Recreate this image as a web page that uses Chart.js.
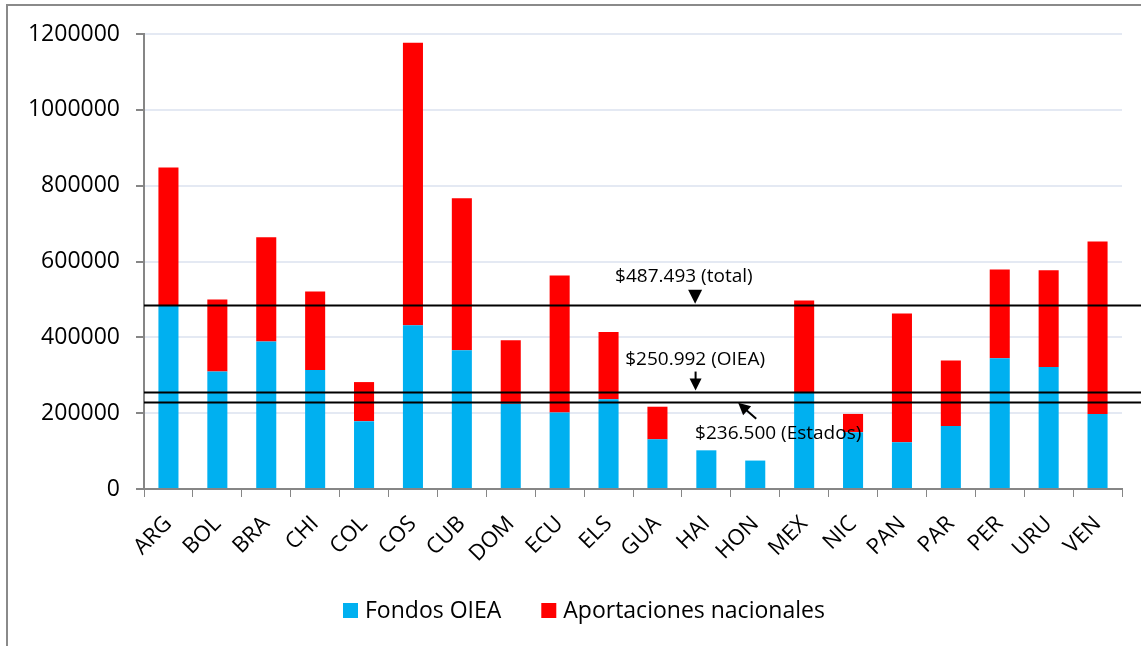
<!DOCTYPE html>
<html>
<head>
<meta charset="utf-8">
<script src="https://cdn.jsdelivr.net/npm/chart.js@4.4.0/dist/chart.umd.min.js"></script>
<style>
  body { margin:0; background:#fff; }
  #wrap { position:relative; width:1141px; height:646px; overflow:hidden; }
  #frame { position:absolute; left:6px; top:4px; width:1160px; height:680px; border:2px solid #8a8a8a; pointer-events:none; }
</style>
</head>
<body>
<div id="wrap">
  <canvas id="chart" width="1141" height="646"></canvas>
  <div id="frame"></div>
</div>
<script>
// datos
const paises = ['ARG','BOL','BRA','CHI','COL','COS','CUB','DOM','ECU','ELS','GUA','HAI','HON','MEX','NIC','PAN','PAR','PER','URU','VEN'];
const fondosOIEA = [485000, 310000, 389000, 314000, 179000, 432000, 366000, 225000, 202000, 237000, 131000, 102000, 75000, 256000, 150000, 123000, 166000, 345000, 322000, 198000];
const aportacionesNacionales = [363000, 190000, 275000, 207000, 103000, 745000, 401000, 167000, 361000, 177000, 86000, 0, 0, 241000, 48000, 340000, 173000, 234000, 255000, 455000];
const yTicks = [0, 200000, 400000, 600000, 800000, 1000000, 1200000];
const promedios = [486000, 257000, 230000];
const promediosTextos = ['$487.493 (total)', '$250.992 (OIEA)', '$236.500 (Estados)'];
const seriesNombres = ['Fondos OIEA', 'Aportaciones nacionales'];
const colores = ['#00B0F0', '#FF0000'];

const FONT = '"Open Sans", sans-serif';

function flecha(ctx, x1, y1, x2, y2, head) {
    const ang = Math.atan2(y2 - y1, x2 - x1);
    ctx.beginPath();
    ctx.moveTo(x1, y1);
    ctx.lineTo(x2 - Math.cos(ang) * head * 0.8, y2 - Math.sin(ang) * head * 0.8);
    ctx.lineWidth = 2;
    ctx.stroke();
    ctx.beginPath();
    ctx.moveTo(x2, y2);
    ctx.lineTo(x2 - head * Math.cos(ang) + head * 0.5 * Math.sin(ang), y2 - head * Math.sin(ang) - head * 0.5 * Math.cos(ang));
    ctx.lineTo(x2 - head * Math.cos(ang) - head * 0.5 * Math.sin(ang), y2 - head * Math.sin(ang) + head * 0.5 * Math.cos(ang));
    ctx.closePath();
    ctx.fill();
}

const extras = {
    id: 'extras',
    afterDatasetsDraw(chart) {
        const ctx = chart.ctx;
        const xs = chart.scales.x, ys = chart.scales.y;
        const left = chart.chartArea.left;
        ctx.save();
        ctx.strokeStyle = '#000';
        ctx.fillStyle = '#000';
        // lineas de promedio
        promedios.forEach(v => {
            const y = Math.round(ys.getPixelForValue(v)) + 0.5;
            ctx.beginPath();
            ctx.moveTo(left, y);
            ctx.lineTo(chart.width, y);
            ctx.lineWidth = 2;
            ctx.stroke();
        });
        ctx.font = '19px ' + FONT;
        ctx.textBaseline = 'middle';

        // total
        let yl = ys.getPixelForValue(promedios[0]);
        ctx.textAlign = 'center';
        ctx.fillText(promediosTextos[0], xs.getPixelForValue(10.54), yl - 28);
        let xa = xs.getPixelForValue(10.77);
        ctx.beginPath();
        ctx.moveTo(xa - 7, yl - 15);
        ctx.lineTo(xa + 7, yl - 15);
        ctx.lineTo(xa, yl - 1);
        ctx.closePath();
        ctx.fill();

        // OIEA
        yl = ys.getPixelForValue(promedios[1]);
        ctx.fillText(promediosTextos[1], xs.getPixelForValue(10.77), yl - 32);
        xa = xs.getPixelForValue(10.78);
        flecha(ctx, xa, yl - 20, xa, yl - 1, 12);

        // Estados
        yl = ys.getPixelForValue(promedios[2]);
        ctx.textAlign = 'left';
        ctx.fillText(promediosTextos[2], xs.getPixelForValue(10.77), yl + 32);
        flecha(ctx, xs.getPixelForValue(12.02), yl + 17, xs.getPixelForValue(11.65), yl + 1, 12);

        // leyenda
        ctx.font = '23px ' + FONT;
        let x = 343;
        const yb = 603;
        seriesNombres.forEach((n, i) => {
            ctx.fillStyle = colores[i];
            ctx.fillRect(x, yb, 15, 15);
            ctx.fillStyle = '#000';
            ctx.fillText(n, x + 22, yb + 8);
            x += 22 + ctx.measureText(n).width + 40;
        });
        ctx.restore();
    }
};

new Chart(document.getElementById('chart'), {
    type: 'bar',
    data: {
        labels: paises,
        datasets: [
            { label: seriesNombres[0], data: fondosOIEA, backgroundColor: colores[0], barPercentage: 0.41, categoryPercentage: 1 },
            { label: seriesNombres[1], data: aportacionesNacionales, backgroundColor: colores[1], barPercentage: 0.41, categoryPercentage: 1 }
        ]
    },
    options: {
        responsive: false,
        animation: false,
        layout: { padding: { left: 0, right: 19, top: 34, bottom: 0 } },
        plugins: { legend: { display: false }, tooltip: { enabled: false } },
        scales: {
            x: {
                stacked: true,
                grid: { display: true, drawOnChartArea: false, drawTicks: true, tickLength: 8, tickColor: '#868686', offset: true },
                border: { color: '#868686', width: 2 },
                ticks: { autoSkip: false, minRotation: 45, maxRotation: 45, color: '#000', font: { family: FONT, size: 22 }, padding: 14 },
                afterFit(s) { s.height = 157; }
            },
            y: {
                stacked: true,
                min: 0, max: 1200000,
                afterBuildTicks(s) { s.ticks = yTicks.map(v => ({ value: v })); },
                grid: { color: '#E4E9F3', lineWidth: 2, tickLength: 8, tickColor: '#868686' },
                border: { color: '#868686', width: 2 },
                ticks: { color: '#000', font: { family: FONT, size: 23 }, padding: 16, callback: v => String(v) },
                afterFit(s) { s.width = 144; }
            }
        }
    },
    plugins: [extras]
});
</script>
</body>
</html>
